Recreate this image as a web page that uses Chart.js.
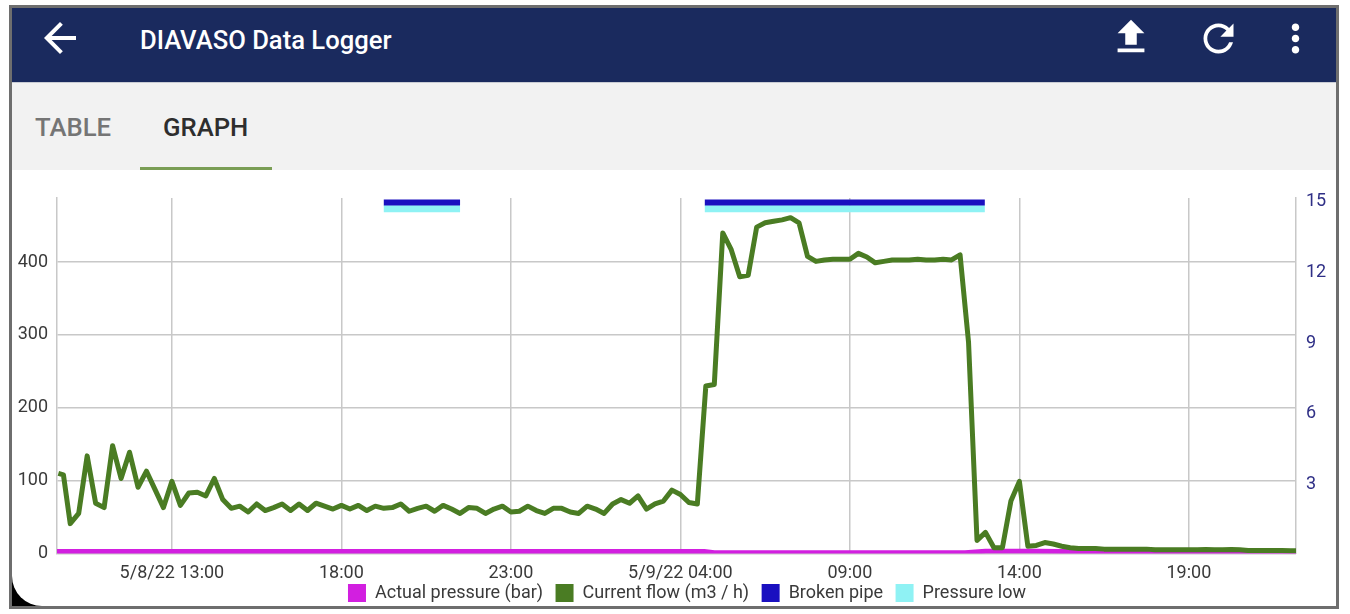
<!DOCTYPE html>
<html>
<head>
<meta charset="utf-8">
<title>DIAVASO Data Logger</title>
<script src="https://cdn.jsdelivr.net/npm/chart.js@4"></script>
<style>
  html, body { margin: 0; padding: 0; background: #fff; overflow: hidden; font-family: Roboto, sans-serif; }
  #frame { position: absolute; left: 9px; top: 5px; width: 1324px; height: 598px; border: 3px solid #6e6e6e; background: #000; overflow: hidden; }
  #appbar { position: absolute; left: 0; top: 0; right: 0; height: 74px; background: #1a2a5e; }
  #title { position: absolute; left: 128px; top: 16px; color: #fff; font-size: 25.6px; font-weight: 500; line-height: 32px; }
  #tabs { position: absolute; left: 0; top: 74px; right: 0; height: 88px; background: #f2f2f2; border-top: 1px solid #c9ccd4; box-sizing: border-box; }
  .tab { position: absolute; top: 29px; font-size: 25.7px; font-weight: 500; line-height: 30px; }
  #underline { position: absolute; left: 128px; top: 84px; width: 132px; height: 3px; background: #7a9e55; }
  #content { position: absolute; left: 0; top: 162px; right: 0; bottom: 0; background: #fff; border-bottom-left-radius: 30px; }
  canvas { position: absolute; left: 0; top: 0; }
  svg { position: absolute; fill: #fff; }
</style>
</head>
<body>
<div id="frame">
  <div id="appbar">
    <svg style="left:24px;top:6px" width="48" height="48" viewBox="0 0 24 24"><path d="M20 11H7.83l5.59-5.59L12 4l-8 8 8 8 1.41-1.41L7.83 13H20v-2z"/></svg>
    <div id="title">DIAVASO Data Logger</div>
    <svg style="left:1096px;top:6px" width="46" height="46" viewBox="0 0 24 24"><path d="M9 16h6v-6h4l-7-7-7 7h4zm-4 2h14v2H5z"/></svg>
    <svg style="left:1184px;top:8px" width="45" height="45" viewBox="0 0 24 24"><path d="M17.65 6.35C16.2 4.9 14.21 4 12 4c-4.42 0-7.99 3.58-7.99 8s3.57 8 7.99 8c3.73 0 6.84-2.55 7.73-6h-2.08c-.82 2.33-3.04 4-5.65 4-3.31 0-6-2.69-6-6s2.69-6 6-6c1.66 0 3.14.69 4.22 1.78L13 11h7V4l-2.35 2.35z"/></svg>
    <svg style="left:1261px;top:8px" width="45" height="45" viewBox="0 0 24 24"><path d="M12 8c1.1 0 2-.9 2-2s-.9-2-2-2-2 .9-2 2 .9 2 2 2zm0 2c-1.1 0-2 .9-2 2s.9 2 2 2 2-.9 2-2-.9-2-2-2zm0 6c-1.1 0-2 .9-2 2s.9 2 2 2 2-.9 2-2-.9-2-2-2z"/></svg>
  </div>
  <div id="tabs">
    <div class="tab" style="left:23px;color:#757575">TABLE</div>
    <div class="tab" style="left:151px;color:#2e2e2e">GRAPH</div>
    <div id="underline"></div>
  </div>
  <div id="content"><canvas id="chart" width="1324" height="441"></canvas></div>
</div>

<script>
// hours counted from 5/8/22 00:00
const flowHours = [
  9.65, 9.8,
  10, 10.25, 10.5, 10.75,
  11, 11.25, 11.5, 11.75,
  12, 12.25, 12.5, 12.75,
  13, 13.25, 13.5, 13.75,
  14, 14.25, 14.5, 14.75,
  15, 15.25, 15.5, 15.75,
  16, 16.25, 16.5, 16.75,
  17, 17.25, 17.5, 17.75,
  18, 18.25, 18.5, 18.75,
  19, 19.25, 19.5, 19.75,
  20, 20.25, 20.5, 20.75,
  21, 21.25, 21.5, 21.75,
  22, 22.25, 22.5, 22.75,
  23, 23.25, 23.5, 23.75,
  24, 24.25, 24.5, 24.75,
  25, 25.25, 25.5, 25.75,
  26, 26.25, 26.5, 26.75,
  27, 27.25, 27.5, 27.75,
  28, 28.25, 28.5, 28.75,
  29, 29.25, 29.5, 29.75,
  30, 30.25, 30.5, 30.75,
  31, 31.25, 31.5, 31.75,
  32, 32.25, 32.5, 32.75,
  33, 33.25, 33.5, 33.75,
  34, 34.25, 34.5, 34.75,
  35, 35.25, 35.5, 35.75,
  36, 36.25, 36.5, 36.75,
  37, 37.25, 37.5, 37.75,
  38, 38.25, 38.5, 38.75,
  39, 39.25, 39.5, 39.75,
  40, 40.25, 40.5, 40.75,
  41, 41.25, 41.5, 41.75,
  42, 42.25, 42.5, 42.75,
  43, 43.25, 43.5, 43.75,
  44, 44.25, 44.5, 44.75,
  45, 45.25, 45.5, 45.75,
  46, 46.16
];
const flowValues = [
  110, 108,
  41, 55, 134, 69,
  63, 148, 103, 139,
  91, 113, 88, 63,
  99, 66, 83, 84,
  79, 103, 74, 62,
  65, 57, 68, 59,
  63, 68, 59, 68,
  59, 69, 65, 61,
  66, 61, 66, 59,
  65, 62, 63, 68,
  58, 62, 65, 58,
  66, 61, 55, 63,
  62, 55, 61, 65,
  57, 58, 65, 59,
  55, 62, 62, 57,
  55, 65, 61, 55,
  68, 74, 69, 79,
  61, 68, 72, 87,
  81, 70, 68, 230,
  232, 440, 417, 380,
  382, 448, 454, 456,
  458, 461, 454, 408,
  401, 403, 404, 404,
  404, 412, 407, 399,
  401, 403, 403, 403,
  404, 403, 403, 404,
  403, 410, 290, 18,
  29, 8, 8, 72,
  99, 10, 11, 15,
  13, 10, 8, 7,
  7, 7, 6, 6,
  6, 6, 6, 6,
  5, 5, 5, 5,
  5, 5, 5.5, 5,
  5, 5.5, 5, 4,
  4, 4, 4, 4,
  3.7, 3.7
];
const pressureHours = [9.61, 28.7, 29.0, 36.4, 37.0, 38.5, 40, 42, 46.16];
const pressureValues = [0.09, 0.09, 0.03, 0.03, 0.1, 0.1, 0.07, 0.04, 0.03];

// alarm bands, null breaks the line between the two periods
const brokenPipeHours = [19.25, 21.5, 21.6, 28.72, 36.98];
const brokenPipeValues = [14.87, 14.87, null, 14.87, 14.87];
const pressureLowHours = [19.25, 21.5, 21.6, 28.72, 36.98];
const pressureLowValues = [14.6, 14.6, null, 14.6, 14.6];

const xTickHours = [13, 18, 23, 28, 33, 38, 43];
const xTickLabels = ['5/8/22 13:00', '18:00', '23:00', '5/9/22 04:00', '09:00', '14:00', '19:00'];
const leftTicks = [0, 100, 200, 300, 400];
const rightTicks = [3, 6, 9, 12, 15];

function points(xs, ys) {
  return xs.map((x, i) => ({ x: x, y: ys[i] }));
}

function lineSet(label, xs, ys, color, width, axis, order) {
  return {
    label: label,
    data: points(xs, ys),
    borderColor: color,
    backgroundColor: color,
    borderWidth: width,
    pointRadius: 0,
    tension: 0,
    spanGaps: false,
    borderCapStyle: 'butt',
    borderJoinStyle: 'round',
    yAxisID: axis,
    order: order
  };
}

const textColor = '#3a3a3a';
const gridColor = '#c8c8c8';

// the tick labels and the legend share the strip under the plot
const stripLayout = {
  id: 'stripLayout',
  afterLayout(chart) {
    chart.scales.x.bottom += 20;
    chart.legend.left += 13;
    chart.legend.right += 13;
    chart.legend.top += 1;
  }
};

new Chart(document.getElementById('chart').getContext('2d'), {
  type: 'line',
  plugins: [stripLayout],
  data: {
    datasets: [
      lineSet('Actual pressure (bar)', pressureHours, pressureValues, '#d21fe0', 5, 'y1', 3),
      lineSet('Current flow (m3 / h)', flowHours, flowValues, '#4a7c23', 5, 'y', 0),
      lineSet('Broken pipe', brokenPipeHours, brokenPipeValues, '#1a10c0', 6, 'y1', 1),
      lineSet('Pressure low', pressureLowHours, pressureLowValues, '#8ff2f4', 7, 'y1', 2)
    ]
  },
  options: {
    responsive: false,
    animation: false,
    layout: { padding: { top: 28, left: 0, right: 0, bottom: 0 } },
    plugins: {
      tooltip: { enabled: false },
      legend: {
        position: 'bottom',
        labels: {
          boxWidth: 18,
          boxHeight: 18,
          padding: 12.5,
          color: textColor,
          font: { family: 'Roboto', size: 18 },
          sort: (a, b) => a.datasetIndex - b.datasetIndex,
          generateLabels: function(chart) {
            return Chart.defaults.plugins.legend.labels.generateLabels(chart).map(item => {
              item.lineWidth = 0;
              return item;
            });
          }
        }
      }
    },
    scales: {
      x: {
        type: 'linear',
        min: 9.61,
        max: 46.16,
        afterBuildTicks: scale => { scale.ticks = xTickHours.map(v => ({ value: v })); },
        afterFit: scale => { scale.height = 17; },
        grid: { color: gridColor, lineWidth: 1.5, drawTicks: false },
        border: { display: false },
        ticks: {
          autoSkip: false,
          maxRotation: 0,
          padding: 9,
          color: textColor,
          font: { family: 'Roboto', size: 18 },
          callback: value => xTickLabels[xTickHours.indexOf(value)]
        }
      },
      y: {
        position: 'left',
        min: 0,
        max: 488,
        afterBuildTicks: scale => { scale.ticks = leftTicks.map(v => ({ value: v })); },
        afterFit: scale => { scale.width = 45; },
        grid: { color: gridColor, lineWidth: 1.5, drawTicks: false },
        border: { display: true, color: gridColor, width: 1.5 },
        ticks: {
          padding: 9,
          color: textColor,
          font: { family: 'Roboto', size: 18 }
        }
      },
      y1: {
        position: 'right',
        min: 0,
        max: 15.06,
        afterBuildTicks: scale => { scale.ticks = rightTicks.map(v => ({ value: v })); },
        afterFit: scale => { scale.width = 40; },
        grid: { display: false, drawTicks: false },
        border: { display: true, color: gridColor, width: 1.5 },
        ticks: {
          padding: 10,
          labelOffset: 2,
          color: '#2f2f86',
          font: { family: 'Roboto', size: 18 }
        }
      }
    }
  }
});
</script>
</body>
</html>
